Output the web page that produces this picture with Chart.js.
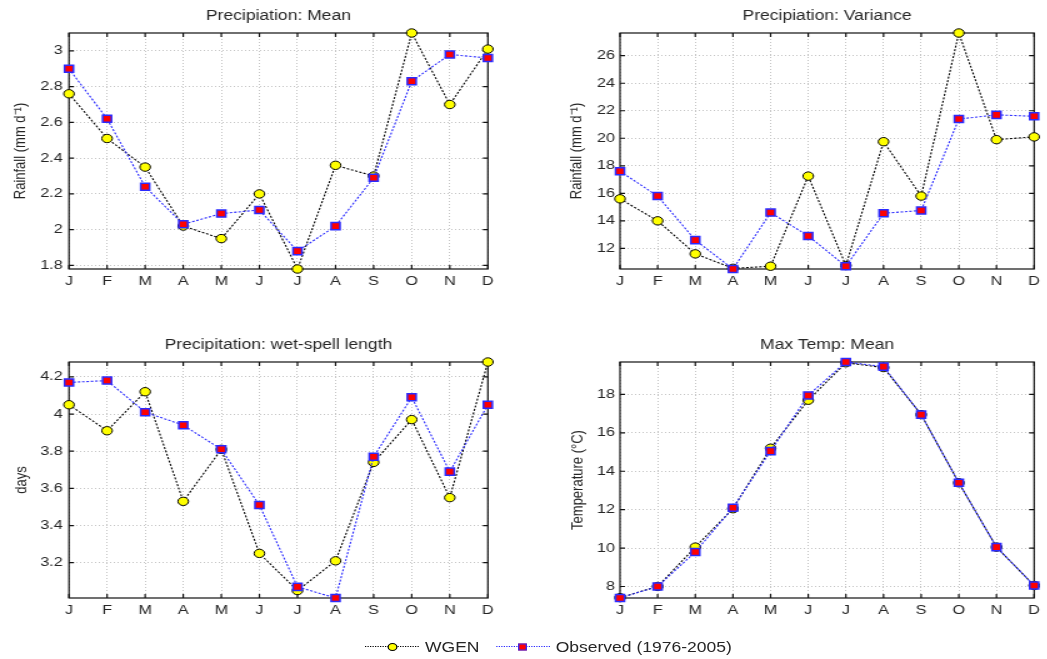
<!DOCTYPE html>
<html>
<head>
<meta charset="utf-8">
<script src="https://cdn.jsdelivr.net/npm/chart.js@4.4.1/dist/chart.umd.min.js"></script>
<style>
  body { margin: 0; background: #fff; width: 1047px; height: 659px; overflow: hidden; }
  /* the reference figure is stretched sideways, so draw narrower and widen it */
  #page { position: absolute; left: 0; top: 0; width: 838px; height: 659px; transform: scaleX(1.25); transform-origin: 0 0; }
  #page canvas { position: absolute; }
  #legend { position: absolute; left: 292px; top: 639px; display: flex; align-items: center;
    font: 14px "Liberation Sans", Arial, sans-serif; color: #262626; white-space: nowrap; }
  .key { position: relative; width: 43px; height: 10px; margin-right: 5px; }
  .key .ln { position: absolute; left: 0; right: 0; top: 4px; border-top: 1px dotted #000; }
  .key .mk { position: absolute; left: 50%; top: 50%; transform: translate(-50%, -50%); box-sizing: border-box; }
  .key.wgen .mk { width: 8px; height: 8px; border-radius: 50%; background: #ffff00; border: 1px solid #000; }
  .key.obs .ln { border-top-color: #2a2aff; }
  .key.obs .mk { width: 7px; height: 7px; background: #ff0000; border: 1.5px solid #2a2aff; }
</style>
</head>
<body>
<div id="page">
  <canvas id="meanChart" width="400" height="300" style="left:0;top:0"></canvas>
  <canvas id="varChart" width="421" height="300" style="left:416px;top:0"></canvas>
  <canvas id="spellChart" width="400" height="300" style="left:0;top:329px"></canvas>
  <canvas id="tempChart" width="421" height="300" style="left:416px;top:329px"></canvas>
  <div id="legend">
    <span class="key wgen"><span class="ln"></span><span class="mk"></span></span>
    <span style="margin-right:13px">WGEN</span>
    <span class="key obs"><span class="ln"></span><span class="mk"></span></span>
    <span>Observed (1976-2005)</span>
  </div>
</div>
<script>
const months = ["J", "F", "M", "A", "M", "J", "J", "A", "S", "O", "N", "D"];

// Precipitation: Mean
const wgenMean = [2.76, 2.51, 2.35, 2.02, 1.95, 2.20, 1.78, 2.36, 2.30, 3.10, 2.70, 3.01];
const obsMean = [2.90, 2.62, 2.24, 2.03, 2.09, 2.11, 1.88, 2.02, 2.29, 2.83, 2.98, 2.96];
const meanRange = [1.78, 3.1];

// Precipitation: Variance
const wgenVar = [15.6, 14.0, 11.6, 10.55, 10.7, 17.25, 10.75, 19.75, 15.8, 27.65, 19.9, 20.1];
const obsVar = [17.6, 15.8, 12.6, 10.5, 14.6, 12.9, 10.7, 14.55, 14.75, 21.4, 21.7, 21.6];
const varRange = [10.5, 27.65];

// Precipitation: wet-spell length
const wgenSpell = [4.05, 3.91, 4.12, 3.53, 3.81, 3.25, 3.05, 3.21, 3.74, 3.97, 3.55, 4.28];
const obsSpell = [4.17, 4.18, 4.01, 3.94, 3.81, 3.51, 3.07, 3.01, 3.77, 4.09, 3.69, 4.05];
const spellRange = [3.01, 4.28];

// Max Temp: Mean
const wgenTemp = [7.42, 8.0, 10.05, 12.05, 15.2, 17.7, 19.65, 19.4, 16.95, 13.4, 10.05, 8.05];
const obsTemp = [7.40, 8.0, 9.8, 12.1, 15.05, 17.95, 19.69, 19.45, 16.95, 13.4, 10.05, 8.05];
const tempRange = [7.4, 19.69];

Chart.defaults.font.family = '"Liberation Sans", Arial, sans-serif';
Chart.defaults.color = "#262626";

// black box round the plot with matlab style inward ticks
const frame = {
  id: "frame",
  beforeDatasetsDraw(chart) {
    const { ctx, chartArea: a, scales: { x, y } } = chart;
    ctx.save();
    ctx.strokeStyle = "#111";
    ctx.lineWidth = 1.2;
    ctx.strokeRect(a.left, a.top, a.right - a.left, a.bottom - a.top);
    ctx.beginPath();
    x.ticks.forEach((t, i) => {
      const px = x.getPixelForTick(i);
      ctx.moveTo(px, a.bottom); ctx.lineTo(px, a.bottom - 4);
      ctx.moveTo(px, a.top); ctx.lineTo(px, a.top + 4);
    });
    y.ticks.forEach((t, i) => {
      const py = y.getPixelForTick(i);
      ctx.moveTo(a.left, py); ctx.lineTo(a.left + 4, py);
      ctx.moveTo(a.right, py); ctx.lineTo(a.right - 4, py);
    });
    ctx.stroke();
    ctx.restore();
  },
};

function makeChart(id, title, wgen, obs, range, step, yTitle, opts) {
  const ctx = document.getElementById(id).getContext("2d");
  return new Chart(ctx, {
    type: "line",
    data: {
      labels: months,
      datasets: [
        {
          label: "WGEN",
          data: wgen,
          order: 2,
          clip: false,
          borderColor: "#000",
          borderWidth: 1.1,
          borderDash: [2, 1.5],
          pointStyle: "circle",
          pointRadius: 4.2,
          pointBackgroundColor: "#ffff00",
          pointBorderColor: "#000",
          pointBorderWidth: 1,
        },
        {
          label: "Observed (1976-2005)",
          data: obs,
          order: 1,
          clip: false,
          borderColor: "#2a2aff",
          borderWidth: 1.1,
          borderDash: [2, 1.5],
          pointStyle: "rect",
          pointRadius: 5,
          pointBackgroundColor: "#ff0000",
          pointBorderColor: "#2a2aff",
          pointBorderWidth: 1.5,
        },
      ],
    },
    options: {
      responsive: false,
      animation: false,
      layout: { padding: { left: 0, right: opts.padRight, top: 0, bottom: 0 } },
      plugins: {
        legend: { display: false },
        tooltip: { enabled: false },
        title: {
          display: true,
          text: title,
          fullSize: false,
          font: { size: 14, weight: "normal" },
          padding: { top: 7.6, bottom: 8.6 },
        },
      },
      scales: {
        x: {
          offset: false,
          border: { display: false, dash: [1, 2] },
          grid: { color: "#c4c4c4", drawTicks: false },
          ticks: { font: { size: 13 }, padding: 5, maxRotation: 0, autoSkip: false },
          afterFit: (s) => { s.height = 31; },
        },
        y: {
          min: range[0],
          max: range[1],
          border: { display: false, dash: [1, 2] },
          grid: { color: "#c4c4c4", drawTicks: false },
          ticks: {
            stepSize: step,
            includeBounds: false,
            font: { size: 13 },
            padding: opts.tickPad,
            callback: (v) => String(+v.toFixed(2)),
          },
          title: {
            display: true,
            text: yTitle,
            font: { size: 13 },
            padding: { top: opts.titlePad, bottom: 0 },
          },
          afterFit: (s) => { s.width = opts.axisWidth; },
        },
      },
    },
    plugins: [frame],
  });
}

makeChart("meanChart", "Precipiation: Mean", wgenMean, obsMean, meanRange, 0.2,
  "Rainfall (mm d\u207B\u00B9)", { axisWidth: 55.2, padRight: 9.6, tickPad: 5, titlePad: 8.2 });
makeChart("varChart", "Precipiation: Variance", wgenVar, obsVar, varRange, 2,
  "Rainfall (mm d\u207B\u00B9)", { axisWidth: 80, padRight: 8.2, tickPad: 4, titlePad: 37.8 });
makeChart("spellChart", "Precipitation: wet-spell length", wgenSpell, obsSpell, spellRange, 0.2,
  "days", { axisWidth: 55.2, padRight: 9.6, tickPad: 5, titlePad: 10 });
makeChart("tempChart", "Max Temp: Mean", wgenTemp, obsTemp, tempRange, 2,
  "Temperature (\u00B0C)", { axisWidth: 80, padRight: 8.2, tickPad: 4, titlePad: 38.6 });
</script>
</body>
</html>
